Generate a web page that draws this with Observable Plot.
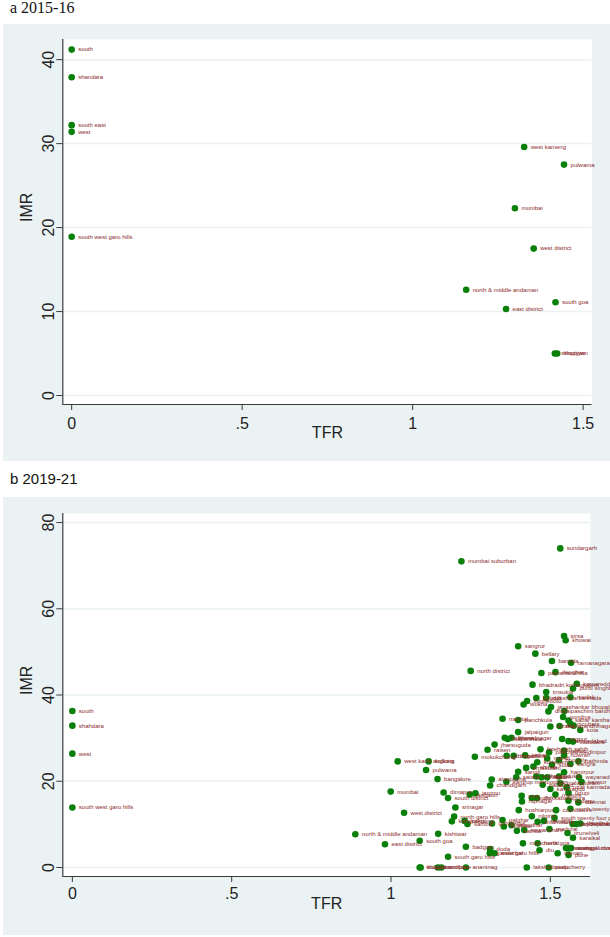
<!DOCTYPE html>
<html><head><meta charset="utf-8">
<script src="https://cdn.jsdelivr.net/npm/d3@7"></script>
<script src="https://cdn.jsdelivr.net/npm/@observablehq/plot@0.6"></script>
<style>
body{margin:0;background:#fff;width:610px;height:937px;position:relative;overflow:hidden;font-family:"Liberation Sans",Arial,sans-serif}
.title{position:absolute;left:10px;color:#111;white-space:nowrap}
.panel{position:absolute;left:3px;width:607px;background:#eaf2f3}
.panel svg{display:block}
</style></head><body>
<div class="title" style="top:0px;font-family:'Liberation Serif','Times New Roman',serif;font-size:16px;line-height:16px">a 2015-16</div>
<div class="panel" id="pa" style="top:24px;height:437px"></div>
<div class="title" style="top:471px;font-size:15px;line-height:15px">b 2019-21</div>
<div class="panel" id="pb" style="top:497px;height:438px"></div>
<script>
// ---- Panel a: 2015-16 ----
const districtsA = ["south","shandara","south east","west","south west garo hills","west kameng","pulwama","mumbai","west district","north & middle andaman","south goa","east district","shupiyan","shopiyan"];
const tfrA = [0,0,0,0,0,1.327,1.444,1.300,1.355,1.157,1.419,1.274,1.417,1.424];
const imrA = [41.2,37.9,32.2,31.4,18.9,29.6,27.5,22.3,17.5,12.6,11.1,10.3,5.0,5.0];

// ---- Panel b: 2019-21 ----
const districtsB = ["south","shahdara","west","south west garo hills","sundargarh","mumbai suburban","sirsa","khowai","sangrur","bellary",
"barnala","ramanagara","north district","pathanamthitta","deoghar","bhadradri kothagudem","kamareddy","purbi singhbhum","tinsukia","kolasib",
"dakshina kannada","medak","zunheboto","wokha","jayashankar bhupalpally","dhalai","paschim bardhaman","gondiya","nainital","panchkula",
"sabar kantha","nicobars","aizawl","thane","gandhinagar","kota","jalpaiguri","ludhiana","kapurthala","ahmednagar",
"nagpur","ahmedabad","vadodara","jharsuguda","raisen","fatehgarh sahib","paschim medinipur","rajkot","mokokchung","dibrugarh",
"bhandara","jorhat","mandi","howrah","west karbi anglong","kolkata","kottayam","hooghly","kangra","bathinda",
"pulwama","ernakulam","shimla","solan","hamirpur","bangalore","sangli","satara","alappuzha","kolhapur",
"thrissur","kollam","idukki","wayanad","kamrup metropolitan","chandigarh","palakkad","malappuram","kannur","kasaragod",
"uttar kannada","mumbai","dimapur","south district","jangaon","jammu","una","kullu","chikkaballapura","mysore",
"udupi","rupnagar","kodagu","chennai","srinagar","hoshiarpur","coimbatore","north twenty four parganas","west district","nilgiris",
"north garo hills","kangpokpi","kamjong","samba","gurdaspur","palghar","amritsar","jalandhar","south twenty four parganas","sindhudurg",
"ratnagiri","kanchipuram","hyderabad","thoothukudi","kathua","nawanshahr","madurai","tirunelveli","north & middle andaman","kishtwar",
"karaikal","south goa","east district","mancherial","north goa","badgam","doda","ganderbal","west garo hills","warangal urban",
"warangal rural","mahe","diu","daman","pune","south garo hills","shupiyan","kulgam","bandipore","ramban",
"anantnag","lakshadweep","puducherry"];
const tfrB = [0,0,0,0,1.531,1.221,1.543,1.548,1.399,1.453,
1.505,1.565,1.250,1.472,1.516,1.444,1.583,1.571,1.487,1.456,
1.487,1.563,1.427,1.416,1.502,1.494,1.544,1.540,1.350,1.399,
1.557,1.563,1.500,1.529,1.573,1.594,1.399,1.357,1.366,1.378,
1.537,1.557,1.571,1.325,1.303,1.469,1.496,1.543,1.263,1.363,
1.385,1.421,1.490,1.543,1.021,1.118,1.459,1.527,1.563,1.588,
1.110,1.424,1.447,1.505,1.543,1.146,1.399,1.393,1.316,1.456,
1.472,1.490,1.527,1.590,1.362,1.311,1.476,1.531,1.598,1.500,
1.551,0.999,1.165,1.179,1.247,1.265,1.410,1.442,1.458,1.516,
1.557,1.411,1.557,1.588,1.202,1.401,1.518,1.563,1.041,1.442,
1.198,1.191,1.231,1.240,1.317,1.350,1.354,1.378,1.513,1.460,
1.480,1.570,1.582,1.594,1.395,1.418,1.497,1.554,0.888,1.148,
1.571,1.090,0.981,1.414,1.460,1.235,1.311,1.310,1.325,1.549,
1.557,1.565,1.466,1.523,1.557,1.179,1.090,1.093,1.147,1.158,
1.235,1.426,1.495];
const imrB = [36.3,32.9,26.4,13.9,74.0,71.0,53.7,52.7,51.3,49.6,
47.9,47.5,45.6,45.1,45.3,42.4,42.6,41.5,40.7,39.3,
39.3,39.5,38.6,37.8,37.2,36.2,36.3,34.9,34.5,34.2,
34.1,33.3,32.7,32.8,32.9,31.9,31.4,30.1,29.8,30.1,
29.8,29.3,29.2,28.5,27.3,27.4,26.7,27.1,25.7,25.9,
25.9,26.0,25.3,26.0,24.6,24.6,24.4,24.9,24.0,24.6,
22.6,23.1,23.4,23.8,22.1,20.5,22.2,20.9,20.4,21.1,
20.9,20.9,21.1,20.9,19.9,19.0,19.2,19.5,19.8,18.2,
18.6,17.6,17.4,16.1,16.9,17.2,16.6,16.1,16.1,16.9,
17.3,15.3,15.5,15.1,13.9,13.3,13.3,13.6,12.7,11.9,
11.8,10.7,10.8,10.1,10.2,11.0,9.5,9.8,11.5,10.6,
10.8,10.1,10.1,10.2,8.5,8.7,8.9,8.0,7.7,7.8,
6.9,6.2,5.4,5.6,5.6,4.8,4.3,3.3,3.3,4.5,
4.4,4.5,4.0,3.3,2.9,2.5,0,0,0,0,
0,0,0];

const xTicks = [0, 0.5, 1, 1.5];
const yTicksA = [0, 10, 20, 30, 40];
const yTicksB = [0, 20, 40, 60, 80];

const fmt = d => d === 0 ? "0" : String(d).replace(/^0\./, ".");

function panel(el, names, tfr, imr, xDom, yDom, yTicks, dims) {
  const data = names.map((n, i) => ({name: n, tfr: tfr[i], imr: imr[i]}));
  const chart = Plot.plot({
    width: 607, height: dims.h,
    marginLeft: 59.3, marginRight: dims.mr, marginTop: dims.mt, marginBottom: dims.mb,
    style: {background: "transparent", fontFamily: "'Liberation Sans', Arial, sans-serif", overflow: "hidden"},
    x: {domain: xDom},
    y: {domain: yDom},
    marks: [
      Plot.frame({fill: "white", stroke: null}),
      Plot.gridY(yTicks, {stroke: "#eaf2f3", strokeOpacity: 1, strokeWidth: 1.5}),
      Plot.ruleX([xDom[0]], {stroke: "#3a3a3a", strokeWidth: 1.2}),
      Plot.ruleY([yDom[0]], {stroke: "#3a3a3a", strokeWidth: 1.2}),
      Plot.axisX(xTicks, {tickSize: 6, tickPadding: dims.xpad, tickFormat: fmt, fontSize: 16, label: null, stroke: "#3a3a3a", fill: "#222"}),
      Plot.axisY(yTicks, {tickSize: 6, tickRotate: -90, tickFormat: fmt, fontSize: 16, label: null, stroke: "#3a3a3a", fill: "#222"}),
      Plot.text(["TFR"], {frameAnchor: "bottom", dy: dims.tfrDy, fontSize: 16, fill: "#222"}),
      Plot.text(["IMR"], {frameAnchor: "left", dx: -36, rotate: -90, fontSize: 16, fill: "#222"}),
      Plot.dot(data, {x: "tfr", y: "imr", r: 3.3, fill: "#0a800a"}),
      Plot.text(data, {x: "tfr", y: "imr", text: "name", textAnchor: "start", dx: 6.5, fontSize: 6, fill: "#8b2a2a"})
    ]
  });
  document.getElementById(el).appendChild(chart);
}

panel("pa", districtsA, tfrA, imrA, [-0.026, 1.526], [-1.07, 42.4], yTicksA,
  {h: 437, mt: 15, mb: 57, mr: 18.5, xpad: 7, tfrDy: 33});
panel("pb", districtsB, tfrB, imrB, [-0.030, 1.626], [-2.09, 82.1], yTicksB,
  {h: 438, mt: 16, mb: 59, mr: 20, xpad: 5, tfrDy: 32});
</script>
</body></html>
